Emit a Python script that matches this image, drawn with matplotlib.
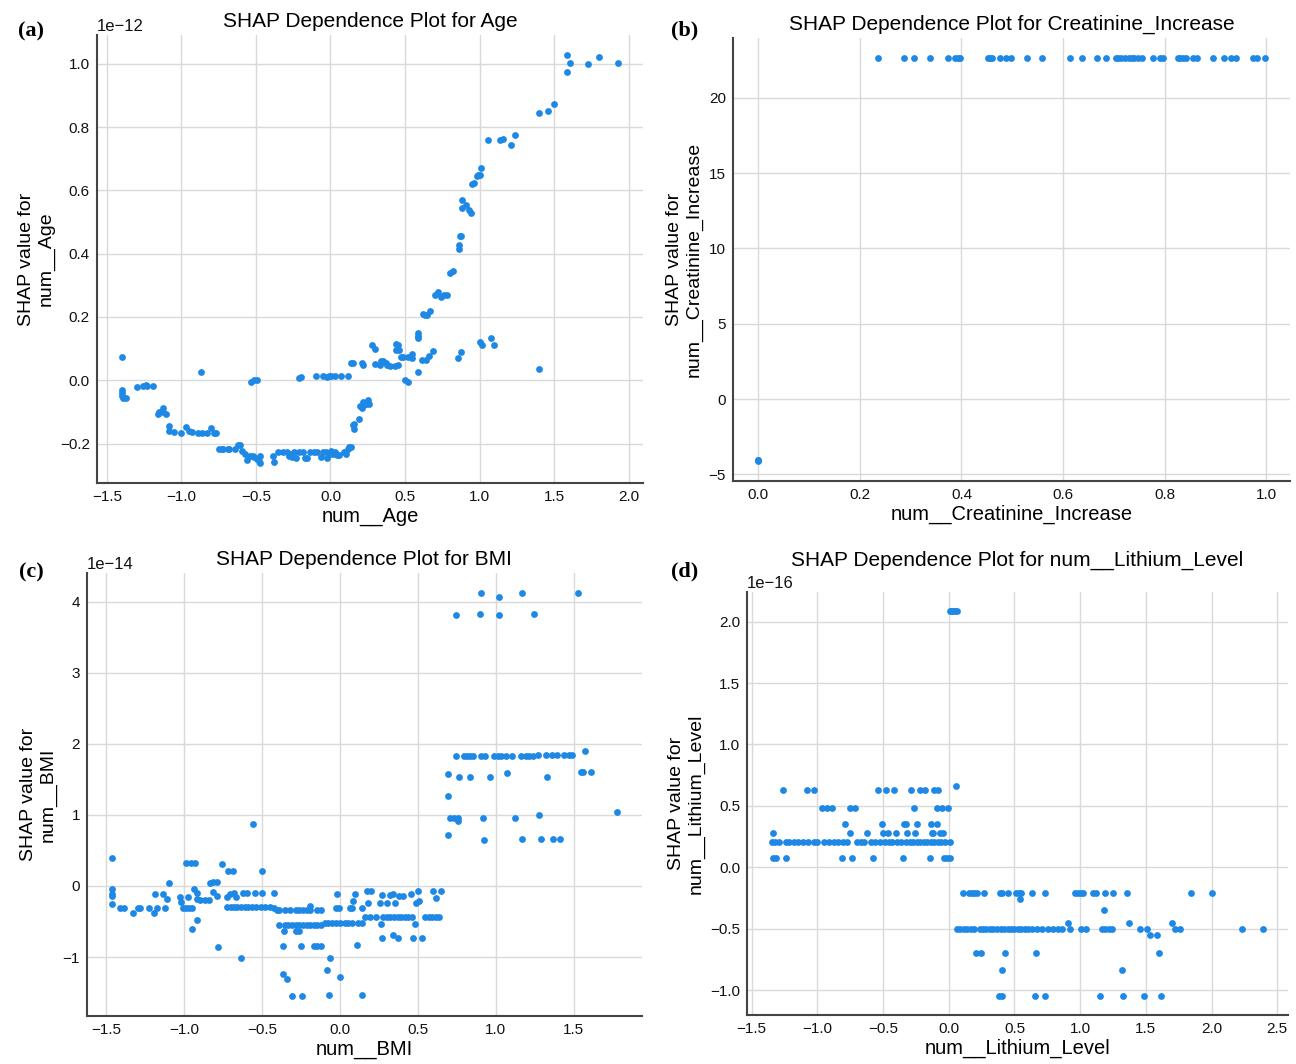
import numpy as np
import matplotlib
matplotlib.use('Agg')
import matplotlib.pyplot as plt

plt.rcParams['font.family'] = ['Liberation Sans', 'DejaVu Sans']
plt.rcParams['axes.unicode_minus'] = True

# ---- (a) Age: feature value vs SHAP value (units of 1e-12) ----
age_x = [
    -1.40, -1.40, -1.40, -1.40, -1.39, -1.37, -1.30, -1.256, -1.24, -1.23, -1.19,
    -1.16, -1.15, -1.12, -1.12, -1.10,
    -1.08, -1.08, -1.05, -1.00, -0.97, -0.95, -0.93, -0.89, -0.86, -0.83, -0.80, -0.78, -0.77,
    -0.866,
    -0.75, -0.73, -0.72, -0.69, -0.68, -0.64, -0.62, -0.61, -0.59,
    -0.57, -0.56, -0.54, -0.52, -0.51, -0.49, -0.48, -0.47, -0.47,
    -0.53, -0.51, -0.49,
    -0.388, -0.376, -0.352, -0.316, -0.292, -0.280, -0.268, -0.256, -0.244, -0.232, -0.208,
    -0.184, -0.172, -0.160, -0.136, -0.112, -0.089, -0.065, -0.053, -0.029, -0.022, -0.005,
    0.007, 0.019, 0.031, 0.043, 0.055, 0.091, 0.103, 0.115, 0.127, 0.139,
    -0.21, -0.20, -0.10, -0.05, -0.025, -0.01, 0.007, 0.03, 0.07, 0.12,
    0.14, 0.15, 0.21, 0.22,
    0.15, 0.155, 0.16, 0.19, 0.20, 0.21, 0.22, 0.23, 0.24, 0.25, 0.26,
    0.28, 0.30,
    0.30, 0.33, 0.34, 0.35, 0.37, 0.38, 0.40, 0.43, 0.45,
    0.44, 0.44, 0.45, 0.46,
    0.47, 0.49, 0.52, 0.55, 0.55,
    0.50, 0.52, 0.586,
    0.59, 0.59, 0.59,
    0.617, 0.64, 0.66, 0.69,
    0.62, 0.635, 0.65, 0.665,
    0.70, 0.72, 0.74, 0.76, 0.78,
    0.80, 0.82, 0.855, 0.875,
    0.86, 0.86, 0.87, 0.875,
    0.88, 0.88, 0.91, 0.93, 0.94,
    0.95, 0.965, 0.98, 0.99, 1.00, 1.01,
    1.00, 1.02, 1.075, 1.095,
    1.06, 1.14, 1.16, 1.21, 1.24,
    1.40, 1.40, 1.46, 1.50,
    1.59, 1.59, 1.61, 1.73, 1.80, 1.93,
]
age_shap = [
    0.075, -0.03, -0.04, -0.05, -0.055, -0.055, -0.02, -0.017, -0.015, -0.017, -0.017,
    -0.105, -0.10, -0.088, -0.10, -0.105,
    -0.145, -0.16, -0.162, -0.165, -0.148, -0.16, -0.163, -0.165, -0.165, -0.165, -0.15, -0.165, -0.168,
    0.025,
    -0.218, -0.218, -0.218, -0.216, -0.218, -0.216, -0.205, -0.205, -0.223,
    -0.234, -0.253, -0.24, -0.24, -0.243, -0.25, -0.255, -0.24, -0.26,
    -0.004, 0.0, 0.0,
    -0.239, -0.258, -0.226, -0.228, -0.228, -0.239, -0.234, -0.242, -0.228, -0.244, -0.228,
    -0.228, -0.244, -0.244, -0.228, -0.228, -0.228, -0.242, -0.228, -0.228, -0.244, -0.234,
    -0.223, -0.234, -0.228, -0.237, -0.237, -0.226, -0.234, -0.218, -0.212, -0.212,
    0.006, 0.01, 0.012, 0.012, 0.01, 0.012, 0.015, 0.015, 0.012, 0.015,
    0.054, 0.054, 0.054, 0.049,
    -0.14, -0.155, -0.139, -0.123, -0.08, -0.086, -0.07, -0.075, -0.075, -0.063, -0.075,
    0.11, 0.10,
    0.052, 0.048, 0.062, 0.062, 0.054, 0.048, 0.046, 0.046, 0.048,
    0.115, 0.097, 0.11, 0.097,
    0.075, 0.075, 0.075, 0.083, 0.07,
    0.0, -0.004, 0.025,
    0.15, 0.14, 0.133,
    0.065, 0.065, 0.078, 0.092,
    0.21, 0.205, 0.205, 0.218,
    0.27, 0.28, 0.263, 0.27, 0.27,
    0.34, 0.346, 0.07, 0.089,
    0.415, 0.427, 0.456, 0.456,
    0.57, 0.543, 0.554, 0.538, 0.53,
    0.62, 0.623, 0.646, 0.649, 0.649, 0.672,
    0.12, 0.112, 0.134, 0.11,
    0.759, 0.759, 0.762, 0.742, 0.774,
    0.036, 0.845, 0.852, 0.872,
    0.975, 1.027, 1.003, 1.0, 1.021, 1.003,
]

# ---- (b) Creatinine_Increase ----
creat_x = [
    0.0, 0.0, 0.0,
    0.235, 0.286, 0.307, 0.338, 0.374, 0.388, 0.393, 0.398, 0.452, 0.456, 0.461,
    0.476, 0.488, 0.498, 0.529, 0.558, 0.614, 0.638, 0.667, 0.684, 0.704, 0.709,
    0.714, 0.721, 0.729, 0.735, 0.739, 0.748, 0.755, 0.777, 0.791, 0.797, 0.827,
    0.831, 0.837, 0.842, 0.856, 0.864, 0.895, 0.917, 0.931, 0.941, 0.973, 0.981, 0.997,
]
creat_shap = [-4.08, -4.05, -4.11] + [22.64] * 45

# ---- (c) BMI (units of 1e-14) ----
bmi_x = [
    0.907, 1.019, 1.171, 1.526, 0.743, 0.897, 1.019, 1.248,
    0.743, 0.794, 0.813, 0.836, 0.855, 0.907, 0.930, 0.988, 1.012, 1.035, 1.065, 1.105,
    1.159, 1.192, 1.210, 1.238, 1.269, 1.322, 1.362, 1.393, 1.439, 1.467, 1.491, 1.570,
    0.692, 0.766, 0.836, 0.965, 1.070, 1.327, 1.549, 1.561, 1.614,
    0.692, 0.708, 0.731, 0.755, 0.755, 0.918, 1.124, 1.276, 1.776,
    0.692, 0.925, 1.171, 1.292, 1.369, 1.411,
    -1.463, -1.463, -1.463, -1.463, -1.463, -1.411, -1.390, -1.327,
    -1.30, -1.285, -1.229, -1.196, -1.173, -1.121,
    -1.185, -1.138, -1.114, -1.100,
    -1.028, -1.019, -0.974, -1.009, -0.991, -0.970, -0.951,
    -0.986, -0.956, -0.932,
    -0.939, -0.921, -0.916, -0.897, -0.869, -0.841, -0.949, -0.921,
    -0.834, -0.818, -0.792, -0.818, -0.792, -0.785, -0.757, -0.717, -0.687,
    -0.729, -0.706, -0.682, -0.671,
    -0.724, -0.701, -0.682, -0.664, -0.636, -0.612, -0.589, -0.565, -0.542, -0.507,
    -0.484, -0.449, -0.425, -0.402,
    -0.636, -0.624, -0.600, -0.547, -0.500, -0.421, -0.556, -0.500,
    -0.390, -0.355, -0.320, -0.285, -0.262, -0.238, -0.215, -0.192, -0.192, -0.145, -0.121,
    -0.390, -0.355, -0.337, -0.308, -0.285, -0.262, -0.238, -0.215, -0.192, -0.168, -0.145,
    -0.121, -0.098, -0.075, -0.051, -0.028, 0.0, 0.030, 0.054, 0.077, 0.117, 0.140,
    -0.360, -0.285, -0.262,
    -0.367, -0.250, -0.168, -0.145, -0.121,
    -0.364, -0.343, -0.308, -0.243, -0.065, -0.084, 0.0, -0.070, 0.140,
    -0.021, -0.028, -0.005, 0.061, 0.079, 0.143, 0.084, 0.093, 0.107,
    0.171, 0.199, 0.178,
    0.159, 0.194, 0.229, 0.276, 0.299, 0.322, 0.346, 0.369, 0.393, 0.416, 0.439, 0.463,
    0.264, 0.271, 0.341, 0.374, 0.470, 0.528, 0.479,
    0.257, 0.304, 0.350,
    0.271, 0.318, 0.341, 0.381, 0.404, 0.458, 0.498, 0.486, 0.509,
    0.544, 0.568, 0.591, 0.614, 0.638, 0.598, 0.614, 0.650,
]
bmi_shap = [
    4.12, 4.06, 4.12, 4.12, 3.81, 3.82, 3.81, 3.82,
    1.828, 1.828, 1.828, 1.828, 1.828, 1.828, 1.828, 1.828, 1.828, 1.828, 1.828, 1.828,
    1.828, 1.828, 1.828, 1.828, 1.842, 1.842, 1.842, 1.842, 1.842, 1.842, 1.842, 1.894,
    1.57, 1.537, 1.537, 1.537, 1.584, 1.537, 1.598, 1.598, 1.598,
    1.269, 0.963, 0.963, 0.963, 0.916, 0.963, 0.963, 0.992, 1.039,
    0.714, 0.653, 0.667, 0.667, 0.667, 0.667,
    0.40, -0.047, -0.108, -0.141, -0.249, -0.315, -0.315, -0.376,
    -0.315, -0.315, -0.315, -0.376, -0.315, -0.315,
    -0.108, -0.108, -0.179, 0.042,
    -0.155, -0.226, -0.155, -0.315, -0.315, -0.315, -0.315,
    0.324, 0.324, 0.324,
    -0.038, -0.094, -0.179, -0.193, -0.193, -0.193, -0.611, -0.484,
    0.042, 0.056, 0.056, -0.085, -0.141, -0.86, 0.305, 0.211, 0.211,
    -0.155, -0.108, -0.094, -0.155,
    -0.296, -0.296, -0.296, -0.296, -0.296, -0.296, -0.296, -0.296, -0.296, -0.296,
    -0.296, -0.296, -0.31, -0.343,
    -1.015, -0.094, -0.094, -0.094, -0.094, -0.094, 0.869, 0.211,
    -0.343, -0.343, -0.343, -0.343, -0.343, -0.343, -0.343, -0.28, -0.343, -0.343, -0.343,
    -0.545, -0.545, -0.545, -0.545, -0.545, -0.545, -0.545, -0.545, -0.545, -0.545, -0.545,
    -0.545, -0.517, -0.517, -0.517, -0.517, -0.517, -0.517, -0.517, -0.517, -0.517, -0.517,
    -0.639, -0.639, -0.639,
    -0.846, -0.846, -0.846, -0.846, -0.846,
    -1.24, -1.306, -1.546, -1.546, -1.015, -1.189, -1.283, -1.532, -1.532,
    -0.117, -0.315, -0.315, -0.315, -0.315, -0.315, -0.211, -0.117, -0.827,
    -0.07, -0.07, -0.24,
    -0.437, -0.437, -0.437, -0.437, -0.437, -0.437, -0.437, -0.437, -0.437, -0.437, -0.437, -0.437,
    -0.531, -0.733, -0.686, -0.733, -0.733, -0.733, -0.531,
    -0.24, -0.24, -0.24,
    -0.132, -0.132, -0.108, -0.146, -0.146, -0.108, -0.07, -0.24, -0.216,
    -0.437, -0.437, -0.437, -0.437, -0.437, -0.07, -0.164, -0.07,
]

# ---- (d) Lithium_Level (units of 1e-16) ----
lith_x = [
    0.01, 0.02, 0.035, 0.05, 0.065, 0.053,
    -1.263, -1.077, -1.029, -0.537, -0.479, -0.418, -0.285, -0.218, -0.178, -0.112, -0.085,
    -0.968, -0.928, -0.888, -0.750, -0.710, -0.263, -0.090, -0.051, -0.005,
    -0.790, -0.511, -0.338, -0.324, -0.239, -0.138, -0.090,
    -1.340, -0.755, -0.622, -0.497, -0.463, -0.402, -0.316, -0.258, -0.130, -0.117, -0.064, -0.045,
    -1.348, -1.322, -1.295, -1.242, -1.215, -1.176, -1.149, -1.109, -1.069, -1.029, -1.003,
    -0.949, -0.910, -0.870, -0.843, -0.803, -0.777, -0.697, -0.670, -0.644, -0.590, -0.564,
    -0.524, -0.484, -0.457, -0.431, -0.391, -0.364, -0.324, -0.298, -0.271, -0.245, -0.218,
    -0.191, -0.165, -0.138, -0.112, -0.085, -0.059, -0.032, 0.008,
    -1.340, -1.316, -1.237, -0.809, -0.737, -0.577, -0.351, -0.146, -0.040, -0.013, 0.013,
    0.109, 0.154, 0.176, 0.194, 0.215, 0.266, 0.388, 0.407, 0.447, 0.513, 0.535, 0.553,
    0.633, 0.731, 0.960, 0.984, 1.005, 1.024, 1.098, 1.120, 1.191, 1.253, 1.356, 1.846, 2.005,
    0.545, 1.178, 0.904, 1.370, 1.699,
    0.061, 0.088, 0.114, 0.141, 0.168, 0.194, 0.234, 0.261, 0.287, 0.314, 0.340, 0.367,
    0.394, 0.420, 0.447, 0.473, 0.500, 0.527, 0.553, 0.580, 0.606, 0.633, 0.673, 0.713,
    0.753, 0.793, 0.832, 0.859, 0.926, 1.005, 1.045, 1.165, 1.191, 1.218, 1.245, 1.457,
    1.511, 1.723, 1.763, 2.234, 2.394,
    1.532, 1.585,
    0.207, 0.247, 0.426, 0.665, 1.598,
    0.407, 1.316,
    0.386, 0.402, 0.654, 0.729, 1.152, 1.324, 1.489, 1.617,
]
lith_shap = (
    [2.085] * 5 + [0.663]
    + [0.628] * 11
    + [0.485] * 9
    + [0.35] * 7
    + [0.28] * 12
    + [0.207] * 41
    + [0.073] * 11
    + [-0.205] * 25
    + [-0.259, -0.347, -0.455, -0.455, -0.455]
    + [-0.506] * 41
    + [-0.552] * 2
    + [-0.695] * 5
    + [-0.838] * 2
    + [-1.045] * 8
)

W, H = 1296, 1064
panels = [
    # tag, title, feature label, x, y, axes rect, title pad, tag position (px)
    ('(a)', 'Age', 'num__Age', age_x, np.array(age_shap) * 1e-12,
     [0.0748, 0.5461, 0.4213, 0.4211], 6, (31, 31)),
    ('(b)', 'Creatinine_Increase', 'num__Creatinine_Increase', creat_x, np.array(creat_shap),
     [0.5656, 0.5479, 0.4298, 0.4164], 6, (685, 30)),
    ('(c)', 'BMI', 'num__BMI', bmi_x, np.array(bmi_shap) * 1e-14,
     [0.0671, 0.0451, 0.4282, 0.4164], 6, (31, 572)),
    ('(d)', 'num__Lithium_Level', 'num__Lithium_Level', lith_x, np.array(lith_shap) * 1e-16,
     [0.5764, 0.0461, 0.4174, 0.3976], 19, (685, 571)),
]

fig = plt.figure(figsize=(12.96, 10.64), dpi=100)

for tag, title_name, feat, xs, ys, rect, tpad, tpos in panels:
    ax = fig.add_axes(rect)
    ax.scatter(xs, ys, s=24, color='#1E88E5', linewidths=0, zorder=3)
    ax.grid(True, color='#d9d9d9', linewidth=1.0, zorder=0)
    ax.set_axisbelow(True)
    for side in ['top', 'right']:
        ax.spines[side].set_visible(False)
    for side in ['left', 'bottom']:
        ax.spines[side].set_color('#444444')
        ax.spines[side].set_linewidth(1.5)
    ax.tick_params(length=0, labelsize=11, pad=5, colors='#111111')
    ax.yaxis.get_offset_text().set_fontsize(12)
    ax.set_xlabel(feat, fontsize=14.5, labelpad=2)
    ax.set_ylabel('SHAP value for\n' + feat, fontsize=14)
    ax.set_title('SHAP Dependence Plot for ' + title_name, fontsize=15, pad=tpad)
    fig.text(tpos[0] / W, 1 - tpos[1] / H, tag, fontsize=16, fontweight='bold',
             family='Liberation Serif', ha='center', va='center')

fig.savefig('out.png', dpi=100)
